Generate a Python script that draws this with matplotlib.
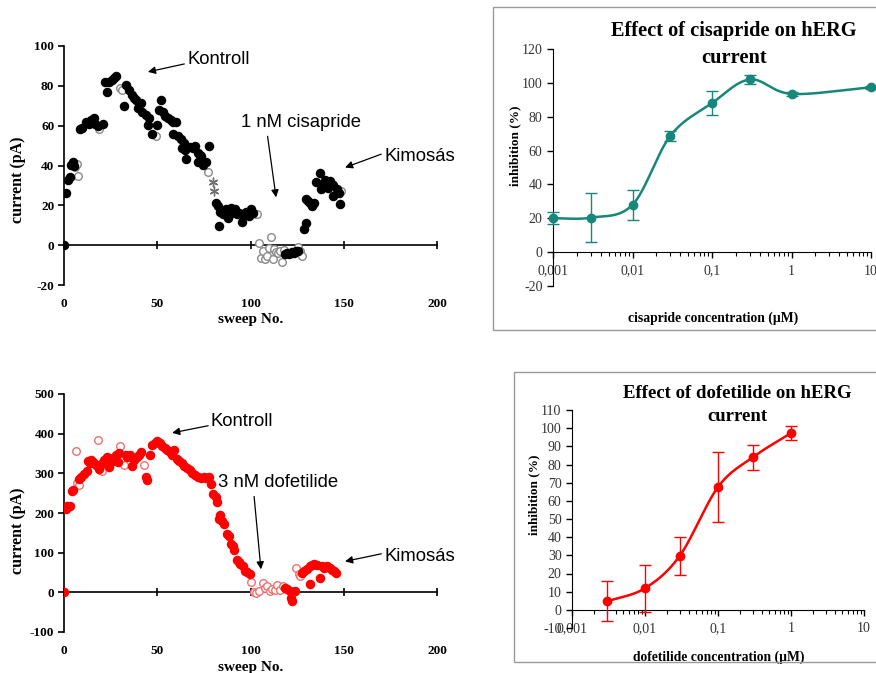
import numpy as np
import matplotlib.pyplot as plt
from matplotlib.patches import Rectangle
from matplotlib.ticker import FixedLocator, LogLocator, NullFormatter

plt.rcParams['axes.unicode_minus'] = False

# --- cisapride time course (sweep No., current pA) ---
cis_fill_x = [0, 1, 2, 3, 4, 5, 5.4, 8.6, 9.9, 12, 13.2, 14.4, 16, 16.7, 18, 21, 22, 23.3, 24.2, 25.7,
              27, 27.8, 32.3, 33, 35, 36.4, 37.7, 38.6, 39.5, 41.3, 42, 44, 45, 45.8, 47, 50, 50.8, 52,
              53, 54.4, 55.7, 57.5, 58.4, 58.7, 60, 61, 62.8, 63.4, 64.3, 65, 65.5, 67.3, 69, 70, 71.8,
              72, 72.7, 73.6, 74.5, 76.3, 78, 81.3, 82.6, 83, 83.8, 85.3, 87, 88, 88.9, 89.8, 90.7, 91.6,
              92.5, 94, 95.2, 96, 97.5, 99.3, 100.5, 101.4, 118.5, 119.5, 120.5, 121.5, 122.5, 123.5,
              124.5, 125.5, 128.7, 129.8, 130, 131, 132, 132.9, 134, 135.2, 137.3, 137.7, 139, 140,
              141.8, 142.7, 144, 144.5, 146.3, 147.2, 148]
cis_fill_y = [0, 26, 32.7, 34, 40.5, 41.7, 39.7, 58.3, 59, 62, 61, 63, 64, 61, 60, 61, 82, 77, 82, 83,
              84, 85, 69.7, 80.5, 78, 75.5, 74, 73, 69, 71.3, 67, 65.5, 60.5, 64, 56, 60.5, 68, 73,
              67, 64.7, 64, 63, 56, 61.7, 62, 54.7, 53.3, 48.8, 51.3, 48, 43.3, 49.3, 48.8, 50, 46.3,
              41.7, 45.5, 44.7, 40.5, 41.7, 49.7, 21.3, 19.7, 9.7, 16.7, 15.5, 18.3, 13.8, 15.5, 18.8,
              16.7, 18, 15.5, 16.3, 11.7, 15, 16.7, 14.7, 18.3, 16.3, -4.5, -4, -4.5, -4, -3.5, -4,
              -3, -3, 8.3, 11.3, 23.3, 22, 21.3, 19.7, 21, 31.7, 36, 28.3, 30.5, 32.7, 28.8, 32.2,
              24.7, 30, 28, 26.3, 20.5]
cis_open_x = [5.9, 6.8, 7.7, 18.9, 30, 31, 49.4, 77.2, 103, 103.6, 104.7, 105.6, 106.8, 107.7, 108.6,
              110, 110.8, 111.8, 112.6, 113.6, 114.9, 115.8, 116.7, 118, 125.7, 126.6, 127.5, 148.5]
cis_open_y = [39.3, 41, 34.7, 58.5, 79, 78, 55, 36.7, 15.5, 15.8, 1.3, -6.2, -2.8, -6.7, -5.3,
              -1.2, 4.3, -6.7, -2, -3.3, -4, -2.8, -8.7, -2.3, -0.7, -2.8, -5.3, 27.2]
cis_star_x = [79.9, 80.4]
cis_star_y = [31.7, 27.2]

# --- dofetilide time course ---
dof_fill_x = [0, 0.9, 1.8, 3, 4.1, 5, 8, 9.3, 10.7, 12.1, 12.9, 13.9, 14.6, 15.7, 17, 18.75, 20, 21.4,
              22.9, 24, 25, 26.4, 27.7, 28.9, 29.5, 33, 33.9, 35.4, 36.6, 37.5, 38.9, 40.2, 41.4, 43.8,
              44.6, 46, 47.3, 48.6, 50, 51.4, 52.7, 53.9, 55.4, 56.8, 58, 58.9, 60.4, 61.6, 63.4, 64.6,
              66, 67.5, 68.8, 70.5, 71.8, 73.2, 75, 75.9, 77.7, 78.9, 80, 81.3, 82.1, 83, 83.9, 84.8,
              86, 87.5, 88.4, 89.3, 90.7, 91.4, 92.9, 93.75, 94.6, 96, 97.3, 98.2, 99.6, 118.5, 119.6,
              121, 121.8, 122.3, 124.1, 127.7, 128.9, 130.4, 131.8, 132, 133, 134.3, 135.7, 137.1,
              138.4, 139.6, 141, 142.5, 143.75, 145, 146]
dof_fill_y = [0, 210, 217, 218, 256, 257, 286, 292, 299, 305, 330, 326, 334, 328, 322, 311, 324, 334,
              341, 316, 328, 339, 345, 328, 351, 347, 341, 345, 319, 334, 341, 347, 355, 292,
              284, 345, 372, 376, 381, 376, 370, 364, 360, 353, 347, 358, 336, 330, 326, 319,
              313, 309, 301, 297, 292, 288, 292, 288, 292, 274, 249, 240, 227, 185, 196, 179,
              173, 148, 143, 123, 116, 106, 82, 76, 72, 66, 55, 50, 45, 12, 8,
              2.5, -14, -23, 4, 49, 53, 59, 66, 22, 70, 72, 70, 36,
              66, 61, 66, 61, 57, 53, 49]
dof_open_x = [6.25, 7.1, 8.2, 18.4, 19.3, 20.5, 30, 32.1, 42.9, 100.4, 101.8, 103.2, 104.5, 106.8,
              108, 109, 110.4, 111.6, 112.9, 114.3, 115.7, 117.5, 124.6, 125.9, 126.8]
dof_open_y = [357, 276, 271, 385, 308, 305, 368, 322, 322, 25, 0, -2, 3, 24,
              11, 15, 3, 8, 7, 19, 7, 15, 61, 45, 40]

# --- concentration-response ---
cis_conc = [0.001, 0.003, 0.01, 0.03, 0.1, 0.3, 1, 10]
cis_inhib = [20, 20.4, 28, 68.8, 88, 102, 93.5, 97.4]
cis_err = [3.5, 14.5, 9, 3, 7, 2.5, 1, 1]

dof_conc = [0.003, 0.01, 0.03, 0.1, 0.3, 1]
dof_inhib = [4.6, 11.9, 29.8, 67.6, 84, 97.3]
dof_err = [11, 13, 10.5, 19.5, 7, 3.7]

W, H = 876, 673
fig = plt.figure(figsize=(W / 100, H / 100), dpi=100)


def px_axes(l, t, r, b):
    return fig.add_axes([l / W, 1 - b / H, (r - l) / W, (b - t) / H])


def smooth(xs, ys, n=40):
    # Catmull-Rom through the points, in log10(x) space (Excel-like smoothed line)
    lx = np.log10(xs)
    ys = np.asarray(ys, float)
    px = np.concatenate([[2 * lx[0] - lx[1]], lx, [2 * lx[-1] - lx[-2]]])
    py = np.concatenate([[2 * ys[0] - ys[1]], ys, [2 * ys[-1] - ys[-2]]])
    ox, oy = [], []
    t = np.linspace(0, 1, n)
    for i in range(1, len(px) - 2):
        for p, out in ((px, ox), (py, oy)):
            p0, p1, p2, p3 = p[i - 1], p[i], p[i + 1], p[i + 2]
            out.extend(0.5 * (2 * p1 + (-p0 + p2) * t + (2 * p0 - 5 * p1 + 4 * p2 - p3) * t ** 2
                              + (-p0 + 3 * p1 - 3 * p2 + p3) * t ** 3))
    return 10 ** np.array(ox), np.array(oy)


serif = 'Liberation Serif'
sans = 'Liberation Sans'
arrow = dict(arrowstyle='-|>', color='black', lw=0.9, mutation_scale=11, shrinkA=0, shrinkB=0)


def sweep_axes(ax, ylim, yticks, ylab_y, xlab_y):
    ax.set_xlim(0, 200)
    ax.set_ylim(*ylim)
    ax.set_yticks(yticks)
    ax.set_xticks([0, 50, 100, 150, 200])
    for s in ('top', 'right'):
        ax.spines[s].set_visible(False)
    ax.spines['bottom'].set_position(('data', 0))
    ax.spines['left'].set_linewidth(1.2)
    ax.spines['bottom'].set_linewidth(1.2)
    ax.tick_params(axis='y', direction='out', length=4, width=1.2, pad=3)
    ax.tick_params(axis='x', direction='inout', length=6, width=1.2, pad=35)
    for lab in ax.get_xticklabels() + ax.get_yticklabels():
        lab.set_fontfamily(serif)
        lab.set_fontweight('bold')
        lab.set_fontsize(9.5)
    ax.set_ylabel('current (pA)', fontfamily=serif, fontweight='bold', fontsize=11.5)
    ax.yaxis.label.set_va('center')
    ax.yaxis.set_label_coords(-0.123, ylab_y)
    ax.set_xlabel('sweep No.', fontfamily=serif, fontweight='bold', fontsize=11)
    ax.xaxis.label.set_va('center')
    ax.xaxis.set_label_coords(0.5, xlab_y)


def note(ax, text, xy, xytext, relpos):
    ax.annotate(text, xy=xy, xytext=xytext, fontsize=13.3, fontfamily=sans, va='center', ha='left',
                arrowprops=dict(arrow, relpos=relpos))


# panel 1: cisapride sweeps
ax1 = px_axes(64, 46, 437, 285)
sweep_axes(ax1, (-20, 100), range(-20, 101, 20), 0.44, -0.146)
ax1.scatter(cis_open_x, cis_open_y, s=30, facecolors='white', edgecolors='#8a8a8a', linewidths=1, zorder=3)
ax1.scatter(cis_fill_x, cis_fill_y, s=34, color='black', zorder=4)
ax1.scatter(cis_star_x, cis_star_y, s=40, marker=(6, 2, 0), color='#707070', linewidths=1, zorder=3)
note(ax1, 'Kontroll', (45, 87), (66, 93), (0, 0.3))
note(ax1, '1 nM cisapride', (113.7, 24), (95, 61.5), (0.22, -0.3))
note(ax1, 'Kimosás', (150.7, 39), (171.6, 44.5), (0, 0.7))

# panel 3: dofetilide sweeps
ax3 = px_axes(64, 394, 437, 632)
sweep_axes(ax3, (-100, 500), range(-100, 501, 100), 0.424, -0.151)
ax3.scatter(dof_open_x, dof_open_y, s=30, facecolors='white', edgecolors='#f07070', linewidths=1, zorder=3)
ax3.scatter(dof_fill_x, dof_fill_y, s=34, color='#ff0000', zorder=4)
note(ax3, 'Kontroll', (58, 402), (78.8, 430), (0, 0.3))
note(ax3, '3 nM dofetilide', (105.6, 58), (82.6, 276), (0.3, -0.3))
note(ax3, 'Kimosás', (150.7, 78), (171.6, 90), (0, 0.7))


def dose_axes(ax, ylim, yticks, ylab_xy, xlab_xy, xlabel, title, title_xy, tsize):
    ax.set_xscale('log')
    ax.set_xlim(0.001, 10)
    ax.set_ylim(*ylim)
    ax.set_yticks(yticks)
    ax.xaxis.set_major_locator(FixedLocator([0.001, 0.01, 0.1, 1, 10]))
    ax.xaxis.set_minor_locator(LogLocator(base=10, subs=np.arange(2, 10)))
    ax.xaxis.set_minor_formatter(NullFormatter())
    ax.set_xticklabels(['0,001', '0,01', '0,1', '1', '10'])
    for s in ('top', 'right'):
        ax.spines[s].set_visible(False)
    ax.spines['bottom'].set_position(('data', 0))
    ax.tick_params(axis='both', which='major', direction='out', length=4, width=1, labelsize=10,
                   labelcolor='#333333')
    ax.tick_params(axis='x', which='major', pad=5)
    ax.tick_params(axis='x', which='minor', direction='out', length=3, width=0.8)
    for lab in ax.get_xticklabels() + ax.get_yticklabels():
        lab.set_fontfamily(serif)
    ax.set_ylabel('inhibition (%)', fontfamily=serif, fontweight='bold', fontsize=9.5)
    ax.yaxis.label.set_va('center')
    ax.yaxis.set_label_coords(*ylab_xy)
    ax.set_xlabel(xlabel, fontfamily=serif, fontweight='bold', fontsize=9.8)
    ax.xaxis.label.set_va('center')
    ax.xaxis.set_label_coords(*xlab_xy)
    ax.text(title_xy[0], title_xy[1], title, transform=ax.transAxes, ha='center', va='center',
            fontfamily=serif, fontweight='bold', fontsize=tsize, linespacing=1.45)


teal = '#17877a'
red = '#ff0000'

# panel 2: cisapride dose response
fig.patches.append(Rectangle((493 / W, 1 - 330 / H), 400 / W, 323 / H, transform=fig.transFigure,
                             fill=False, edgecolor='#9a9a9a', lw=1))
ax2 = px_axes(553, 49, 871, 286)
dose_axes(ax2, (-20, 120), range(-20, 121, 20), (-0.119, 0.59), (0.503, -0.135),
          'cisapride concentration (µM)', 'Effect of cisapride on hERG\ncurrent', (0.569, 1.02), 14.7)
sx, sy = smooth(cis_conc, cis_inhib)
ax2.plot(sx, sy, color=teal, lw=1.8, clip_on=False)
ax2.errorbar(cis_conc, cis_inhib, yerr=cis_err, fmt='o', color=teal, ms=6, capsize=4, elinewidth=1,
             capthick=1, clip_on=False, zorder=4)

# panel 4: dofetilide dose response
fig.patches.append(Rectangle((514 / W, 1 - 662 / H), 400 / W, 290 / H, transform=fig.transFigure,
                             fill=False, edgecolor='#9a9a9a', lw=1))
ax4 = px_axes(572, 410, 864, 628)
dose_axes(ax4, (-10, 110), range(-10, 111, 10), (-0.13, 0.61), (0.503, -0.133),
          'dofetilide concentration (µM)', 'Effect of dofetilide on hERG\ncurrent', (0.565, 1.023), 13.5)
sx, sy = smooth(dof_conc, dof_inhib)
ax4.plot(sx, sy, color=red, lw=1.8)
ax4.errorbar(dof_conc, dof_inhib, yerr=dof_err, fmt='o', color=red, ms=6, capsize=4, elinewidth=1,
             capthick=1, zorder=4)

fig.savefig('out.png', dpi=100)
